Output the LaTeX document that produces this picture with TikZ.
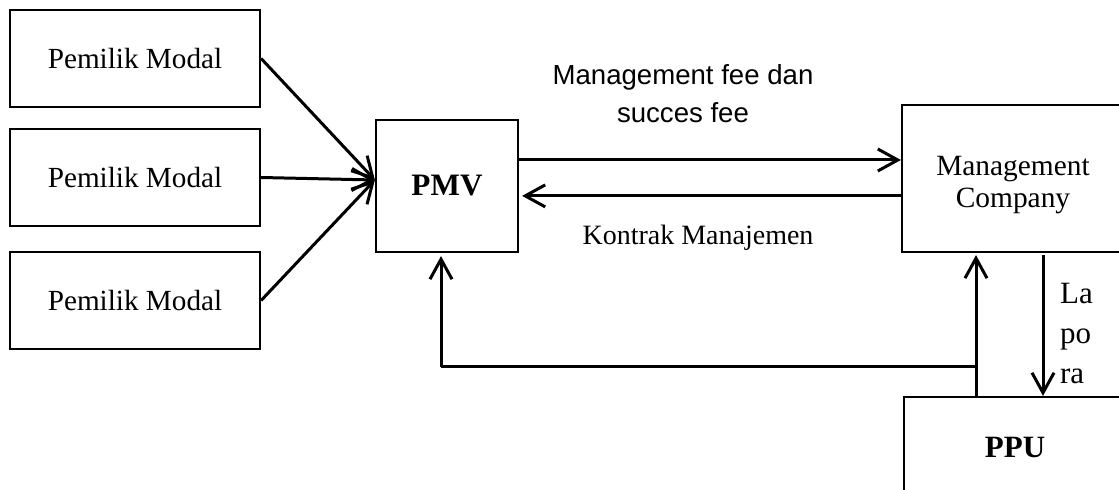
\documentclass[tikz,border=0pt]{standalone}
\usepackage{fontspec}
\setmainfont{Liberation Serif}
\newfontfamily\arialf{Liberation Sans}
\usetikzlibrary{arrows.meta,calc}
\tikzset{
  box/.style={draw,line width=1.1pt,inner sep=0pt,align=center},
  arr/.style={line width=1.5pt,-{Straight Barb[length=10pt,width=11pt,line width=1.5pt]}},
  ln/.style={line width=1.5pt},
  pmtext/.style={font=\fontsize{14.6}{18}\selectfont},
}
\begin{document}
\begin{tikzpicture}[x=0.5pt,y=-0.5pt]
\useasboundingbox (0,0) rectangle (1119,490);
\clip (0,0) rectangle (1119,490);
\node[box,pmtext,minimum width=125pt,minimum height=48.5pt] (pm1) at (135,58.5) {Pemilik Modal};
\node[box,pmtext,minimum width=125pt,minimum height=48.5pt] (pm2) at (135,177.5) {Pemilik Modal};
\node[box,pmtext,minimum width=125pt,minimum height=48.5pt] (pm3) at (135,300.5) {Pemilik Modal};
\node[box,minimum width=71pt,minimum height=66pt,font=\fontsize{15.6}{19}\selectfont\bfseries] (pmv) at (447,186) {PMV};
\node[box,minimum width=111pt,minimum height=73.5pt] (mc) at (1013,178.5) {};
\node[font=\fontsize{14.7}{16}\selectfont,align=center] (mctext) at (1013,185) {Management\\Company};
\node[box,minimum width=111pt,minimum height=50pt,font=\fontsize{15.5}{19}\selectfont\bfseries] (ppu) at (1015,447) {PPU};
\coordinate (conv) at ([yshift=3pt]pmv.west);
\draw[arr] (pm1.east) -- (conv);
\draw[arr] (pm2.east) -- (conv);
\draw[arr] (pm3.east) -- (conv);
\coordinate (a1s) at ([yshift=13pt]pmv.east);
\coordinate (a1e) at (a1s -| mc.west);
\draw[arr] (a1s) -- (a1e);
\coordinate (a2s) at ([yshift=-8.7pt]mc.west);
\coordinate (a2e) at ([xshift=1.5pt]a2s -| pmv.east);
\draw[arr] (a2s) -- (a2e);
\node[font=\arialf\fontsize{13.8}{19}\selectfont,align=center] (lbl1) at (683,94) {Management fee dan\\succes fee};
\node[font=\fontsize{14}{17}\selectfont] (lbl2) at (698,238) {Kontrak Manajemen};
\coordinate (upb) at ([xshift=-19.5pt]ppu.north);
\coordinate (upt) at ([yshift=-1pt]upb |- mc.south);
\draw[arr] (upb) -- (upt);
\coordinate (dnt) at ([xshift=14pt]ppu.north);
\coordinate (dns) at ([yshift=-1pt]dnt |- mc.south);
\draw[arr] (dns) -- (dnt);
\coordinate (fb1) at ($(upb)+(0,-29)$);
\coordinate (fb2) at ([xshift=-3pt]fb1 -| pmv.south);
\coordinate (fb3) at ([yshift=-1.5pt]fb2 |- pmv.south);
\draw[ln] (fb1) -- (fb2);
\draw[arr] (fb2) -- (fb3);
\node[font=\fontsize{15.5}{20}\selectfont,align=left,anchor=north west] (lap) at (1053,276) {La\\po\\ra};
\end{tikzpicture}
\end{document}
